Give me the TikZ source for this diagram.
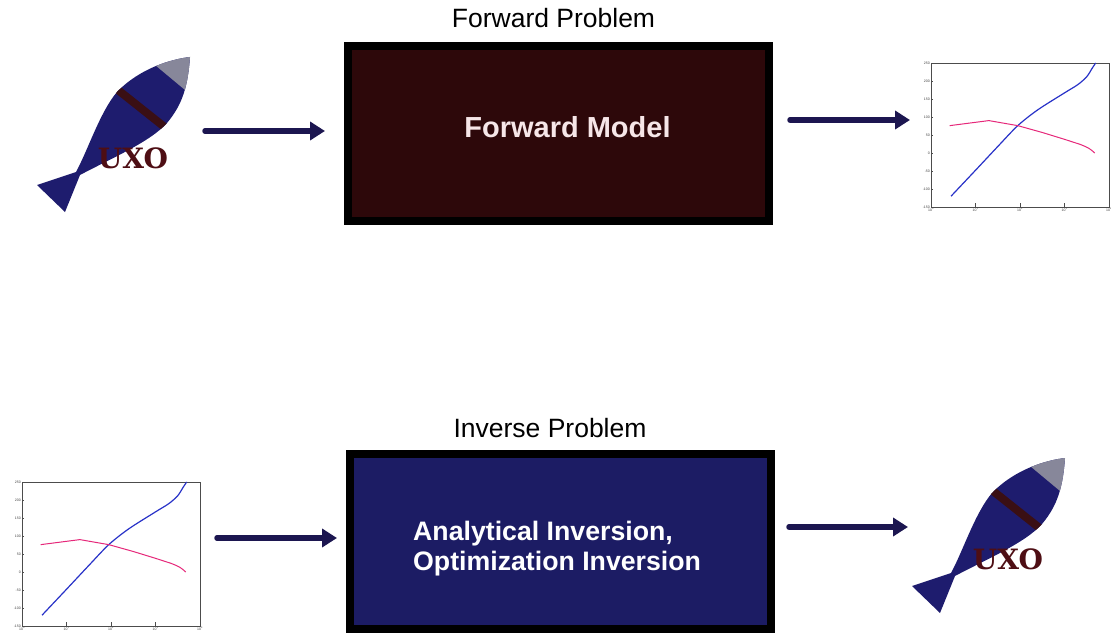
\documentclass[tikz,border=0pt]{standalone}
\usepackage{fontspec}
\setmainfont{Liberation Sans}
\newfontfamily\slabfont{DejaVu Serif}
\usetikzlibrary{arrows.meta}

\definecolor{fishnavy}{HTML}{1E1C6E}
\definecolor{fishcap}{HTML}{87879A}
\definecolor{fishband}{HTML}{3A0F14}
\definecolor{uxored}{HTML}{4E0E14}
\definecolor{fwdred}{HTML}{2D080A}
\definecolor{fwdtext}{HTML}{F6E6E8}
\definecolor{invblue}{HTML}{1C1C64}
\definecolor{arrowblue}{HTML}{1C1650}
\definecolor{respblue}{HTML}{2832C8}
\definecolor{resppink}{HTML}{E6287A}

% outline of the ordnance shell (nose, body, tail)
\newcommand{\fishoutline}{(190,57) .. controls (172,59) and (140,68) .. (117,92)
  .. controls (100,112) and (88,150) .. (76,172) -- (37,185) -- (65,212) -- (80,175)
  .. controls (112,158) and (150,142) .. (167,123)
  .. controls (183,104) and (188,85) .. (190,57) -- cycle}

\begin{document}
\begin{tikzpicture}[x=1pt, y=-1pt,
  % Node styles
  problem/.style={font=\fontsize{26.5}{30}\selectfont, anchor=base, inner sep=0pt},
  modelbox/.style={draw=black, line width=8pt, minimum width=421pt, minimum height=175pt,
    inner sep=0pt},
  fwdbox/.style={modelbox, fill=fwdred},
  invbox/.style={modelbox, fill=invblue},
  fwdlbl/.style={text=fwdtext, font=\fontsize{29}{32}\selectfont\bfseries, inner sep=0pt,
    anchor=base},
  invlbl/.style={text=white, align=left, font=\fontsize{26.7}{30}\selectfont\bfseries,
    inner sep=0pt, anchor=north west},
  uxolbl/.style={font=\slabfont\bfseries\fontsize{28}{28}\selectfont, text=uxored, inner sep=0pt},
  ticklbl/.style={font=\fontsize{3.5}{4}\selectfont, text=black!75, inner sep=1pt},
  % Edge styles
  flow/.style={draw=arrowblue, line width=5.5pt, line cap=round,
    -{Triangle[length=15pt, width=18pt]}},
  axisline/.style={draw=black!70, line width=0.5pt},
  bluecurve/.style={draw=respblue, line width=1.2pt},
  pinkcurve/.style={draw=resppink, line width=1pt},
  % Pictograms
  uxofish/.pic={
    \fill[fishnavy] \fishoutline;
    \begin{scope}
      \clip \fishoutline;
      \fill[fishcap] (143,55) -- (197,100) -- (230,60) -- (190,20) -- cycle;
      \draw[fishband, line width=8pt] (100,75.7) -- (180,139.3);
    \end{scope}
    \node[uxolbl] (-lbl) at (133,158) {UXO};
  },
  respplot/.pic={
    \begin{scope}[shift={(0,-90pt)}, x=44.5pt, y=0.36pt]
      \draw[axisline] (0,-150) rectangle (4,250);
      \foreach \val in {-150,-100,...,250} {
        \draw[axisline] (0,\val) -- (0.04,\val);
        \node[ticklbl, anchor=east] at (0,\val) {\val};
      }
      \foreach \ex in {0,...,4} {
        \draw[axisline] (\ex,-150) -- (\ex,-140);
        \node[ticklbl, anchor=north] at (\ex,-150) {10\textsuperscript{\ex}};
      }
      \draw[bluecurve] plot[smooth] coordinates {(0.45,-120) (1.0,-48) (1.5,18) (1.95,76)
        (2.4,120) (3.0,167) (3.3,190) (3.5,212) (3.62,235) (3.7,250)};
      \draw[pinkcurve] (0.42,76) -- (1.3,90) -- (1.95,76) -- (2.5,57) -- (3.0,38)
        -- (3.35,24) .. controls (3.55,14) .. (3.68,0);
    \end{scope}
  },
]
\useasboundingbox[fill=white] (0,0) rectangle (1111,634);

% === FORWARD PROBLEM (top row) ===
\node[problem] (fwdtitle) at (553.5,28) {Forward Problem};
\pic (uxoA) at (0,0) {uxofish};
\node[fwdbox] (fwd) at (558.5,133.5) {};
\node[fwdlbl] (fwdtxt) at (567.5,137) {Forward Model};
\pic (respA) at (931,63) {respplot};

% === INVERSE PROBLEM (bottom row) ===
\node[problem] (invtitle) at (550,437) {Inverse Problem};
\pic (respB) at (22,482) {respplot};
\node[invbox] (inv) at (560.5,541.5) {};
\node[invlbl] (invtxt) at (413,521) {Analytical Inversion,\\Optimization Inversion};
\pic (uxoB) at (875,401) {uxofish};

% === ARROWS ===
\coordinate (fwdin0)  at (205,131);
\coordinate (fwdin1)  at (325,131);
\coordinate (fwdout0) at (790,120);
\coordinate (fwdout1) at (910,120);
\coordinate (invin0)  at (217,538);
\coordinate (invin1)  at (337,538);
\coordinate (invout0) at (789,527);
\coordinate (invout1) at (908,527);

\draw[flow] (fwdin0) -- (fwdin1);
\draw[flow] (fwdout0) -- (fwdout1);
\draw[flow] (invin0) -- (invin1);
\draw[flow] (invout0) -- (invout1);

\end{tikzpicture}
\end{document}
